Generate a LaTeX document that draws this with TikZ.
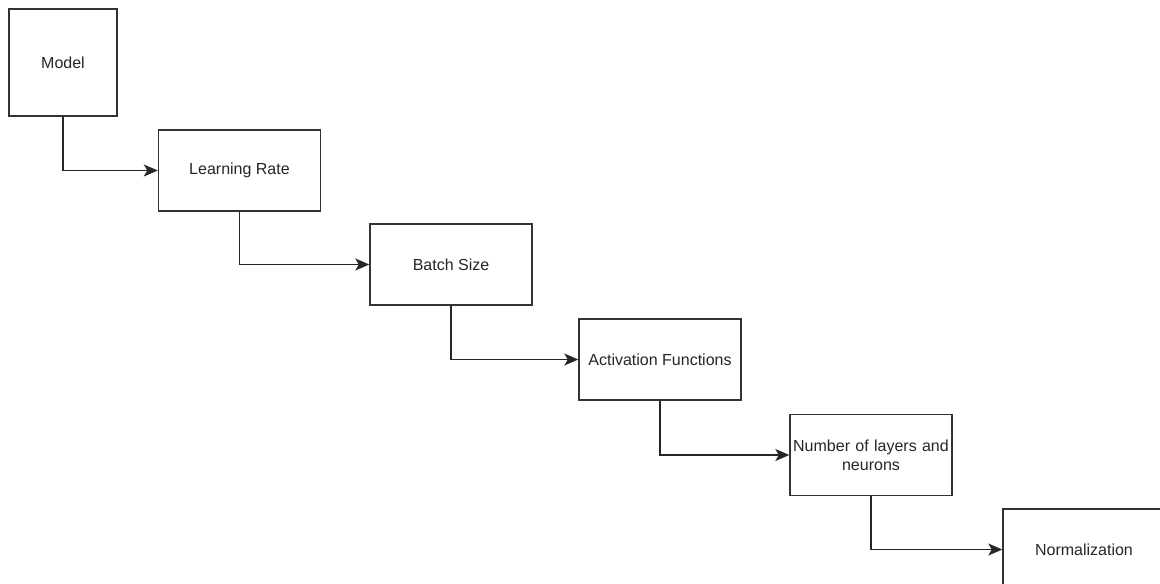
\documentclass[tikz,border=0pt]{standalone}
\usepackage{fontspec}
\setmainfont{Liberation Sans}
\usetikzlibrary{arrows.meta}
\begin{document}
\begin{tikzpicture}[x=1pt,y=-1pt,
  stepbox/.style={draw=black!80, line width=1.4pt, fill=white, minimum width=162pt,
    minimum height=81pt, inner sep=2pt, font=\fontsize{16}{19}\selectfont,
    text=black!85, align=center},
  link/.style={draw=black!85, line width=1.3pt, -{Stealth[length=14pt,width=12pt,inset=3.5pt]}}]
  \useasboundingbox (0,0) rectangle (1160,584);
  \clip (0,0) rectangle (1160,584);
  \node[stepbox, minimum width=108pt, minimum height=107pt] (model) at (63,62.5) {Model};
  \node[stepbox] (lr) at (239.5,170.5) {Learning Rate};
  \node[stepbox] (bs) at (451,264.5) {Batch Size};
  \node[stepbox] (af) at (660,359.5) {Activation Functions};
  \node[stepbox, text width=158pt] (nl) at (871,455) {Number of layers and\\neurons};
  \node[stepbox] (norm) at (1084,549.5) {Normalization};
  \draw[link] (model.south) |- (lr.west);
  \draw[link] (lr.south) |- (bs.west);
  \draw[link] (bs.south) |- (af.west);
  \draw[link] (af.south) |- (nl.west);
  \draw[link] (nl.south) |- (norm.west);
\end{tikzpicture}
\end{document}
